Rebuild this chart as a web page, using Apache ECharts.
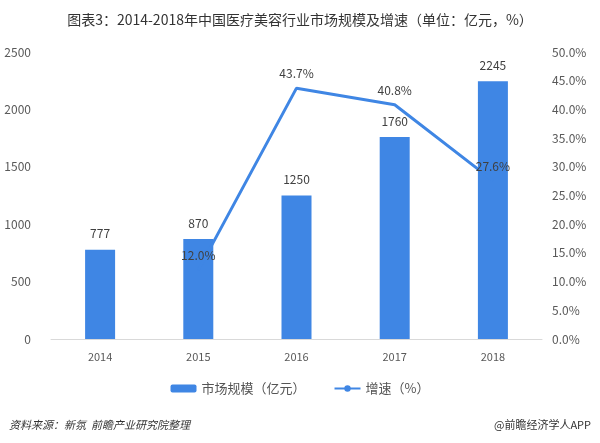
<!DOCTYPE html>
<html>
<head>
<meta charset="utf-8">
<script src="https://cdn.jsdelivr.net/npm/echarts@6/dist/echarts.min.js"></script>
<style>
    html,body{margin:0;padding:0;background:#fff;}
    #chart{width:600px;height:443px;}
</style>
</head>
<body>
<div id="chart"></div>
<script>
    const years = ['2014','2015','2016','2017','2018']
    const scale = [777,870,1250,1760,2245] // 市场规模（亿元）
    const growth = ['-',12.0,43.7,40.8,27.6] // 增速（%），2014年无数据

    const font = '"Microsoft YaHei","Noto Sans CJK SC",sans-serif'
    const chartInstance = echarts.init(document.getElementById('chart'))
    chartInstance.setOption({
        textStyle:{fontFamily:font},
        animation:false,
        title:[
            {
                text:'图表3：2014-2018年中国医疗美容行业市场规模及增速（单位：亿元，%）',
                left:'center',
                top:8,
                textStyle:{fontSize:14,fontWeight:'normal',color:'#333',fontFamily:font}
            },
            {
                text:'资料来源：新氛  前瞻产业研究院整理',
                left:4,
                top:414,
                textStyle:{fontSize:11,fontWeight:'normal',fontStyle:'italic',color:'#333',fontFamily:font}
            },
            {
                text:'@前瞻经济学人APP',
                right:4,
                top:414,
                textStyle:{fontSize:11,fontWeight:'normal',color:'#333',fontFamily:font}
            }
        ],
        legend:{
            top:377,
            left:'center',
            itemGap:28,
            itemWidth:26,
            itemHeight:8,
            textStyle:{fontSize:13,color:'#555'},
            data:['市场规模（亿元）','增速（%）']
        },
        grid:{left:51,right:58,top:52,bottom:104},
        xAxis:{
            type:'category',
            data:years,
            axisLine:{lineStyle:{color:'#d9d9d9'}},
            axisTick:{show:false},
            axisLabel:{color:'#595959',fontSize:11,margin:12}
        },
        yAxis:[
            {
                type:'value',
                min:0,max:2500,interval:500,
                splitLine:{show:false},
                axisLine:{show:false},
                axisTick:{show:false},
                axisLabel:{color:'#595959',fontSize:12,margin:20,formatter:v => String(v)}
            },
            {
                type:'value',
                min:0,max:50,interval:5,
                splitLine:{show:false},
                axisLine:{show:false},
                axisTick:{show:false},
                axisLabel:{color:'#595959',fontSize:12,margin:10,formatter:v => v.toFixed(1) + '%'}
            }
        ],
        series:[
            {
                name:'市场规模（亿元）',
                type:'bar',
                data:scale,
                barWidth:30,
                itemStyle:{color:'#3f86e4'},
                label:{show:true,position:'top',color:'#404040',fontSize:12,distance:10}
            },
            {
                name:'增速（%）',
                type:'line',
                yAxisIndex:1,
                data:growth,
                symbol:'circle',
                symbolSize:1,
                lineStyle:{color:'#3f86e4',width:3},
                itemStyle:{color:'#3f86e4'},
                label:{
                    show:true,position:'top',color:'#404040',fontSize:12,distance:8,
                    formatter:p => (typeof p.value === 'number' ? p.value.toFixed(1) + '%' : '')
                }
            }
        ]
    })
</script>
</body>
</html>
